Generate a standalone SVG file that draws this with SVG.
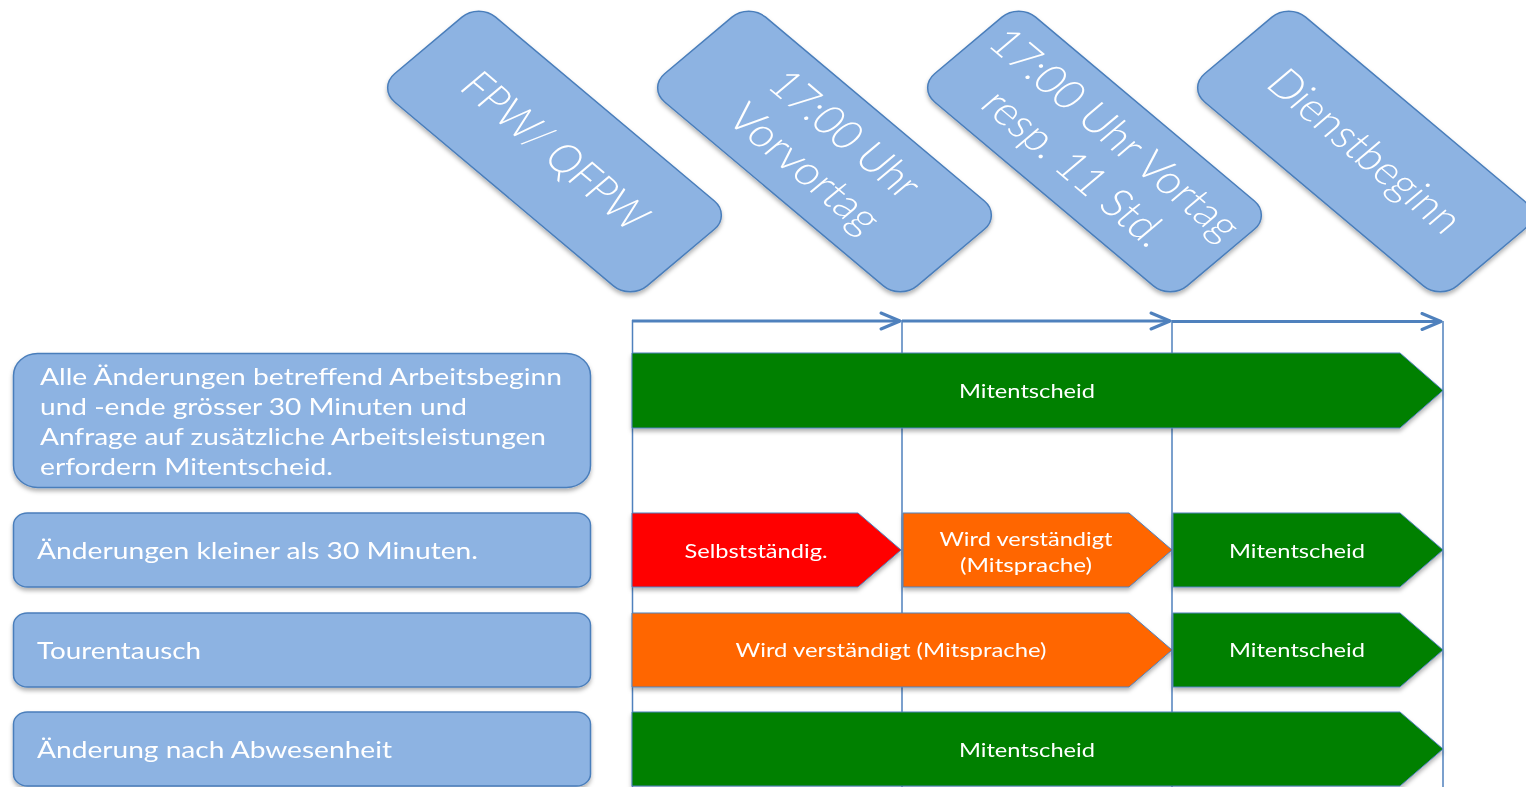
<svg xmlns="http://www.w3.org/2000/svg" width="1526" height="787" viewBox="0 0 1526 787">
<defs>
<style>
.hbox{fill:#8DB3E2;stroke:#4A7EBB;stroke-width:1.5}
.lbox{fill:#8DB3E2;stroke:#4A7EBB;stroke-width:1.5}
.ht{font-family:Lato,"Open Sans",sans-serif;font-weight:300;font-size:40px;fill:#fff;text-anchor:middle}
.lt{font-family:Lato,"Open Sans",sans-serif;font-size:23px;fill:#fff}
.ct{font-family:Lato,"Open Sans",sans-serif;font-size:19px;fill:#fff;text-anchor:middle}
.tl{stroke:#4F81BD;stroke-width:1.5;fill:none}
.ar{stroke:#4F81BD;stroke-width:3;fill:none;marker-end:url(#ah)}
.pg{stroke:#4F81BD;stroke-width:1}
.g{fill:#008000}.r{fill:#FF0000}.o{fill:#FF6600}
</style>
<filter id="sh" x="-5%" y="-5%" width="110%" height="115%">
<feDropShadow dx="0" dy="3" stdDeviation="2" flood-color="#000" flood-opacity="0.3"/>
</filter>
<marker id="ah" markerUnits="userSpaceOnUse" markerWidth="24" markerHeight="20" refX="21" refY="10" orient="auto" viewBox="0 0 24 20">
<path d="M2,2 L21,10 L2,18" fill="none" stroke="#4F81BD" stroke-width="3" stroke-linecap="round" stroke-linejoin="round"/>
</marker>
</defs>
<rect width="1526" height="787" fill="#fff"/>

<g id="h1" filter="url(#sh)"><g transform="translate(554.5,151.5) scale(1.19,1) rotate(45)">
<rect class="hbox" x="-150" y="-60" width="300" height="120" rx="20" vector-effect="non-scaling-stroke"/>
<text class="ht" x="0" y="13" textLength="204" lengthAdjust="spacingAndGlyphs">FPW/ QFPW</text></g></g>
<g id="h2" filter="url(#sh)"><g transform="translate(824.5,151.5) scale(1.19,1) rotate(45)">
<rect class="hbox" x="-150" y="-60" width="300" height="120" rx="20" vector-effect="non-scaling-stroke"/>
<text class="ht" x="0" y="-11" textLength="162" lengthAdjust="spacingAndGlyphs">17:00 Uhr</text>
<text class="ht" x="0" y="37" textLength="163" lengthAdjust="spacingAndGlyphs">Vorvortag</text></g></g>
<g id="h3" filter="url(#sh)"><g transform="translate(1094.5,151.5) scale(1.19,1) rotate(45)">
<rect class="hbox" x="-150" y="-60" width="300" height="120" rx="20" vector-effect="non-scaling-stroke"/>
<text class="ht" x="0" y="-11" textLength="280" lengthAdjust="spacingAndGlyphs">17:00 Uhr Vortag</text>
<text class="ht" x="0" y="37" textLength="202" lengthAdjust="spacingAndGlyphs">resp. 11 Std.</text></g></g>
<g id="h4" filter="url(#sh)"><g transform="translate(1364.5,151.5) scale(1.19,1) rotate(45)">
<rect class="hbox" x="-150" y="-60" width="300" height="120" rx="20" vector-effect="non-scaling-stroke"/>
<text class="ht" x="0" y="13" textLength="213" lengthAdjust="spacingAndGlyphs">Dienstbeginn</text></g></g>

<g id="connectors">
<line class="tl" x1="632.5" y1="320" x2="632.5" y2="787"/>
<line class="tl" x1="902" y1="320" x2="902" y2="787"/>
<line class="tl" x1="1172" y1="320" x2="1172" y2="787"/>
<line class="tl" x1="1443" y1="321" x2="1443" y2="787"/>
<line class="ar" x1="632" y1="321" x2="900" y2="321"/>
<line class="ar" x1="902" y1="321" x2="1170" y2="321"/>
<line class="ar" x1="1172" y1="321.5" x2="1441" y2="321.5"/>
</g>

<g id="l1" filter="url(#sh)">
<rect class="lbox" x="13.5" y="353.5" width="577" height="134" rx="24" ry="22"/>
<text class="lt" x="40" y="385" textLength="522" lengthAdjust="spacingAndGlyphs">Alle Änderungen betreffend Arbeitsbeginn</text>
<text class="lt" x="40" y="415" textLength="427" lengthAdjust="spacingAndGlyphs">und -ende grösser 30 Minuten und</text>
<text class="lt" x="40" y="445" textLength="506" lengthAdjust="spacingAndGlyphs">Anfrage auf zusätzliche Arbeitsleistungen</text>
<text class="lt" x="40" y="475" textLength="293" lengthAdjust="spacingAndGlyphs">erfordern Mitentscheid.</text>
</g>
<g id="l2" filter="url(#sh)">
<rect class="lbox" x="13.5" y="513" width="577" height="74" rx="14" ry="12"/>
<text class="lt" x="37" y="559" textLength="441" lengthAdjust="spacingAndGlyphs">Änderungen kleiner als 30 Minuten.</text>
</g>
<g id="l3" filter="url(#sh)">
<rect class="lbox" x="13.5" y="613" width="577" height="74" rx="14" ry="12"/>
<text class="lt" x="37" y="659" textLength="164" lengthAdjust="spacingAndGlyphs">Tourentausch</text>
</g>
<g id="l4" filter="url(#sh)">
<rect class="lbox" x="13.5" y="712" width="577" height="74" rx="14" ry="12"/>
<text class="lt" x="37" y="758" textLength="355" lengthAdjust="spacingAndGlyphs">Änderung nach Abwesenheit</text>
</g>

<g id="r1" filter="url(#sh)">
<path class="pg g" d="M632,353 H1400 L1443,390.5 L1400,428 H632 Z"/>
<text class="ct" x="1027" y="397.5" textLength="136" lengthAdjust="spacingAndGlyphs">Mitentscheid</text>
</g>
<g id="r2a" filter="url(#sh)">
<path class="pg r" d="M632,513 H858 L901,550 L858,587 H632 Z"/>
<text class="ct" x="756" y="558" textLength="143" lengthAdjust="spacingAndGlyphs">Selbstständig.</text>
</g>
<g id="r2b" filter="url(#sh)">
<path class="pg o" d="M903,513 H1129 L1172,550 L1129,587 H903 Z"/>
<text class="ct" x="1026" y="546" textLength="173" lengthAdjust="spacingAndGlyphs">Wird verständigt</text>
<text class="ct" x="1026" y="572" textLength="132" lengthAdjust="spacingAndGlyphs">(Mitsprache)</text>
</g>
<g id="r2c" filter="url(#sh)">
<path class="pg g" d="M1173,513 H1400 L1443,550 L1400,587 H1173 Z"/>
<text class="ct" x="1297" y="557.5" textLength="136" lengthAdjust="spacingAndGlyphs">Mitentscheid</text>
</g>
<g id="r3a" filter="url(#sh)">
<path class="pg o" d="M632,613 H1129 L1172,650 L1129,687 H632 Z"/>
<text class="ct" x="891" y="657" textLength="311" lengthAdjust="spacingAndGlyphs">Wird verständigt (Mitsprache)</text>
</g>
<g id="r3b" filter="url(#sh)">
<path class="pg g" d="M1173,613 H1400 L1443,650 L1400,687 H1173 Z"/>
<text class="ct" x="1297" y="657" textLength="136" lengthAdjust="spacingAndGlyphs">Mitentscheid</text>
</g>
<g id="r4" filter="url(#sh)">
<path class="pg g" d="M632,712 H1400 L1443,749 L1400,786 H632 Z"/>
<text class="ct" x="1027" y="756.5" textLength="136" lengthAdjust="spacingAndGlyphs">Mitentscheid</text>
</g>
</svg>
